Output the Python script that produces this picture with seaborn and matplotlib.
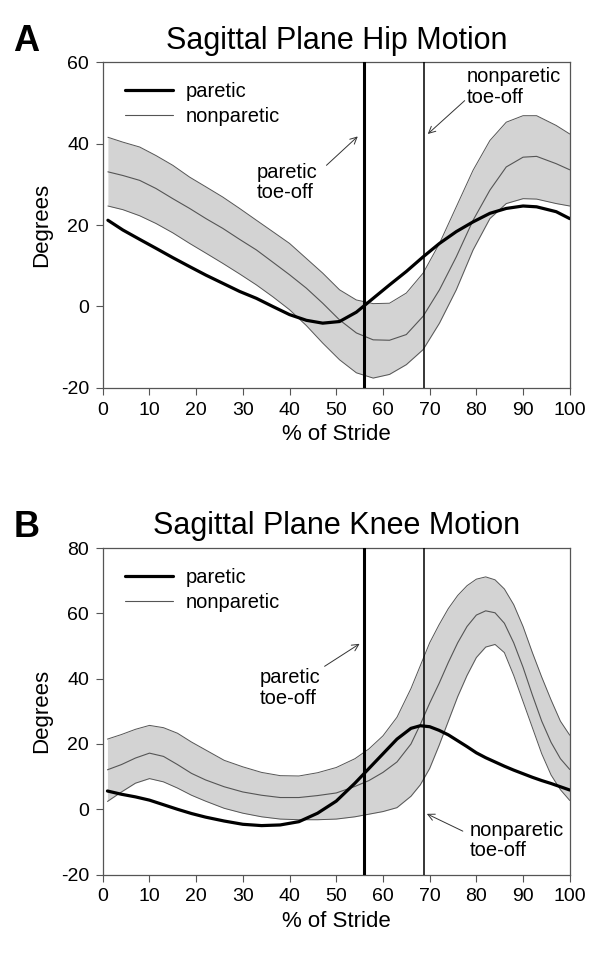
import numpy as np
import pandas as pd
import matplotlib
matplotlib.use('Agg')
import matplotlib.pyplot as plt
import seaborn as sns

# ---- data (% of stride vs degrees) ----
hip_x = [1.1, 4.3, 7.9, 11.4, 15.0, 18.6, 22.1, 25.7, 29.3, 32.9, 36.4, 40.0, 43.6, 47.1, 50.7,
         54.3, 57.9, 61.4, 65.0, 68.6, 72.1, 75.7, 79.3, 82.9, 86.4, 90.0, 92.9, 97.1, 100.0]
hip_paretic = [21.2, 18.8, 16.5, 14.3, 12.0, 9.8, 7.7, 5.7, 3.7, 2.0, 0.0, -2.0, -3.4, -4.1, -3.7,
               -1.4, 2.0, 5.3, 8.6, 12.2, 15.5, 18.4, 20.8, 22.9, 24.1, 24.7, 24.5, 23.3, 21.6]
hip_nonparetic = [33.1, 32.2, 31.0, 29.0, 26.5, 24.1, 21.6, 19.2, 16.5, 13.9, 10.9, 7.8, 4.5, 0.8, -3.3,
                  -6.5, -8.2, -8.3, -6.9, -2.4, 4.1, 12.2, 21.2, 28.6, 34.3, 36.7, 36.9, 35.1, 33.6]
hip_upper = [41.6, 40.4, 39.2, 37.1, 34.7, 31.8, 29.4, 26.9, 24.1, 21.2, 18.4, 15.5, 11.8, 8.2, 4.1,
             1.6, 0.7, 0.8, 3.3, 8.2, 15.5, 24.5, 33.5, 40.8, 45.3, 46.9, 46.9, 44.5, 42.4]
hip_lower = [24.7, 23.8, 22.3, 20.4, 18.1, 15.5, 13.1, 10.6, 8.0, 5.3, 2.4, -0.8, -4.7, -9.0, -13.1,
             -16.3, -17.6, -16.7, -14.3, -10.6, -4.1, 4.1, 13.9, 21.6, 25.3, 26.5, 26.4, 25.3, 24.7]

knee_x = [1, 4, 7, 10, 13, 16, 19, 22, 26, 30, 34, 38, 42, 46, 50, 54, 57, 60, 63,
          66, 68, 70, 72, 74, 76, 78, 80, 82, 84, 86, 88, 90, 92, 94, 96, 98, 100]
knee_paretic = [5.6, 4.6, 3.8, 2.8, 1.4, 0.0, -1.3, -2.4, -3.6, -4.6, -5.0, -4.8, -3.8, -1.2, 2.5, 8.0,
                12.5, 17.0, 21.5,
                24.8, 25.6, 25.3, 24.2, 22.8, 21.0, 19.2, 17.3, 15.8, 14.5, 13.2, 12.0, 10.9, 9.8,
                8.8, 7.9, 6.9, 5.9]
knee_nonparetic = [12.1, 13.7, 15.7, 17.2, 16.2, 13.7, 11.0, 9.0, 6.9, 5.3, 4.3, 3.6, 3.6, 4.2, 5.0, 7.0,
                   8.8, 11.3, 14.5,
                   20.0, 26.0, 32.5, 38.5, 45.0, 51.0, 56.0, 59.5, 60.8, 60.2, 57.0, 51.0, 43.5, 35.0,
                   27.0, 20.5, 15.5, 12.2]
knee_upper = [21.5, 22.9, 24.5, 25.7, 25.0, 23.3, 20.6, 18.2, 15.0, 13.0, 11.3, 10.3, 10.2, 11.2, 12.8, 15.5,
              18.5, 22.5, 28.2,
              37.0, 44.0, 51.0, 56.5, 61.5, 65.5, 68.5, 70.5, 71.2, 70.3, 67.5, 62.7, 56.0, 48.0,
              40.5, 33.5, 27.0, 22.7]
knee_lower = [2.4, 5.3, 8.0, 9.4, 8.4, 6.5, 4.3, 2.5, 0.3, -1.2, -2.3, -3.0, -3.2, -3.2, -3.0, -2.3,
              -1.5, -0.7, 0.5,
              4.0, 7.5, 12.5, 19.5, 27.0, 34.5, 41.0, 46.5, 49.7, 50.5, 48.0, 41.0, 33.0, 25.0,
              17.0, 10.5, 6.0, 2.7]

paretic_toeoff = 56.0
nonparetic_toeoff = 68.7

sns.set_theme(style='ticks')
plt.rcParams['font.family'] = ['Liberation Sans', 'DejaVu Sans']
plt.rcParams['axes.unicode_minus'] = False
plt.rcParams['text.color'] = 'black'
plt.rcParams['axes.labelcolor'] = 'black'

fig = plt.figure(figsize=(6.01, 9.6), dpi=100)
ax_hip = fig.add_axes([0.171, 0.596, 0.777, 0.339])
ax_knee = fig.add_axes([0.171, 0.089, 0.777, 0.340])

GRAY = '#555555'
FILL = '#d3d3d3'


def draw_panel(ax, x, paretic, nonparetic, upper, lower, ylim, title, letter):
    ax.fill_between(x, lower, upper, color=FILL, linewidth=0, zorder=1)
    df = pd.DataFrame({'x': x, 'paretic': paretic, 'nonparetic': nonparetic,
                       'upper': upper, 'lower': lower})
    sns.lineplot(data=df, x='x', y='upper', ax=ax, color=GRAY, linewidth=0.7, zorder=2)
    sns.lineplot(data=df, x='x', y='lower', ax=ax, color=GRAY, linewidth=0.7, zorder=2)
    sns.lineplot(data=df, x='x', y='nonparetic', ax=ax, color=GRAY, linewidth=0.8,
                 label='nonparetic', zorder=3)
    sns.lineplot(data=df, x='x', y='paretic', ax=ax, color='black', linewidth=2.3,
                 label='paretic', zorder=4)
    ax.axvline(paretic_toeoff, color='black', linewidth=2.2, zorder=5)
    ax.axvline(nonparetic_toeoff, color='black', linewidth=1.1, zorder=5)

    ax.set_xlim(0, 100)
    ax.set_ylim(*ylim)
    ax.set_xticks(np.arange(0, 101, 10))
    ax.set_yticks(np.arange(ylim[0], ylim[1] + 1, 20))
    ax.set_xlabel('% of Stride', fontsize=16, labelpad=4)
    ax.set_ylabel('Degrees', fontsize=16, labelpad=6)
    ax.tick_params(labelsize=14, length=5, width=0.8, color=GRAY, labelcolor='black',
                   direction='out', pad=5)
    for s in ax.spines.values():
        s.set_visible(True)
        s.set_color(GRAY)
        s.set_linewidth(0.9)

    handles, labels = ax.get_legend_handles_labels()
    order = [labels.index('paretic'), labels.index('nonparetic')]
    ax.legend([handles[i] for i in order], [labels[i] for i in order],
              loc='upper left', bbox_to_anchor=(0.03, 0.965), frameon=False,
              fontsize=14.5, handlelength=2.4, handletextpad=0.6,
              labelspacing=0.3, borderaxespad=0)

    ax.set_title(title, fontsize=22, pad=10)
    pos = ax.get_position()
    fig.text(0.022, pos.y1 + 0.012, letter, fontsize=26, fontweight='bold',
             ha='left', va='baseline')


draw_panel(ax_hip, hip_x, hip_paretic, hip_nonparetic, hip_upper, hip_lower,
           (-20, 60), 'Sagittal Plane Hip Motion', 'A')
draw_panel(ax_knee, knee_x, knee_paretic, knee_nonparetic, knee_upper, knee_lower,
           (-20, 80), 'Sagittal Plane Knee Motion', 'B')

arrow = dict(arrowstyle='->', color='#333333', linewidth=0.7, shrinkA=0, shrinkB=0)
txt = dict(fontsize=14.5, ha='left', va='center', linespacing=1.1)

# hip annotations
ax_hip.text(32.9, 30.5, 'paretic\ntoe-off', **txt)
ax_hip.annotate('', xy=(54.6, 41.8), xytext=(47.9, 34.7), arrowprops=arrow)
ax_hip.text(77.9, 54.0, 'nonparetic\ntoe-off', **txt)
ax_hip.annotate('', xy=(69.6, 42.4), xytext=(77.5, 50.6), arrowprops=arrow)

# knee annotations
ax_knee.text(33.6, 37.2, 'paretic\ntoe-off', **txt)
ax_knee.annotate('', xy=(55.0, 50.7), xytext=(47.5, 43.8), arrowprops=arrow)
ax_knee.text(78.6, -9.5, 'nonparetic\ntoe-off', **txt)
ax_knee.annotate('', xy=(69.4, -1.4), xytext=(77.1, -6.7), arrowprops=arrow)

fig.savefig('out.png', dpi=100)
